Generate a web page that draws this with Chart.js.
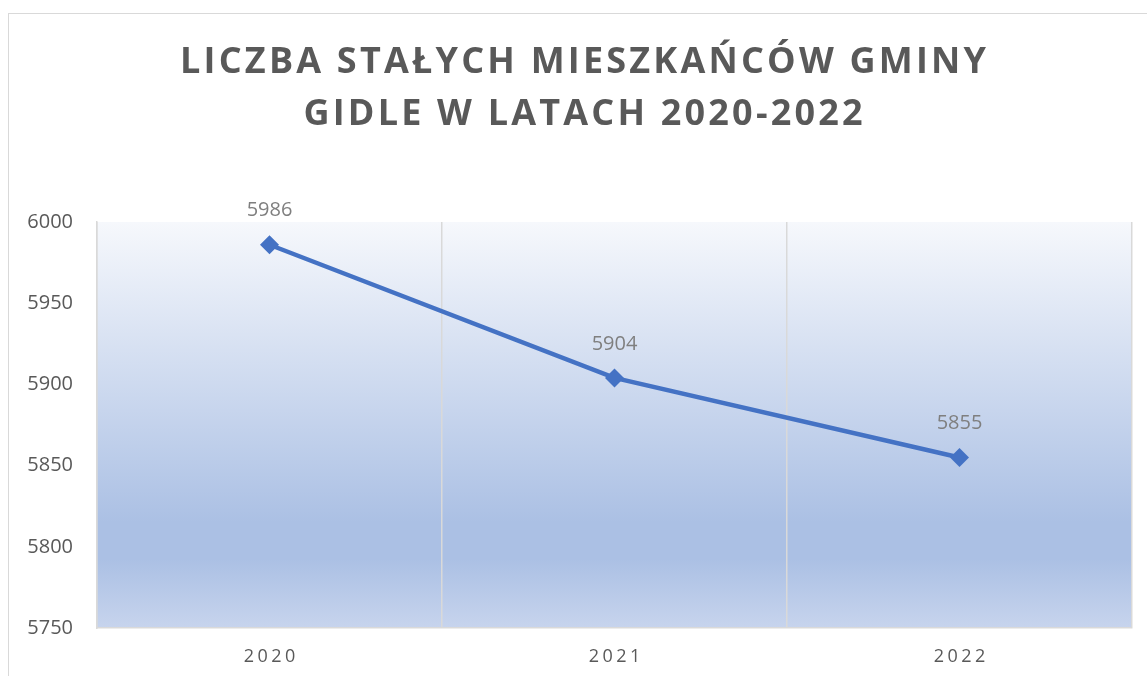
<!DOCTYPE html>
<html>
<head>
<meta charset="utf-8">
<script src="https://cdn.jsdelivr.net/npm/chart.js@4.4.1/dist/chart.umd.min.js"></script>
<style>
  html, body { margin: 0; padding: 0; background: #fff; overflow: hidden; }
  #frame { position: absolute; left: 8px; top: 13px; width: 1300px; height: 800px; border: 1px solid #d9d9d9; }
  #wrap { position: absolute; left: 0; top: 0; width: 1147px; height: 676px; }
</style>
</head>
<body>
<div id="frame"></div>
<div id="wrap"><canvas id="chart" width="1147" height="676"></canvas></div>
<script>
const titleLines = ['LICZBA STAŁYCH MIESZKAŃCÓW GMINY', 'GIDLE W LATACH 2020-2022'];
const years = ['2020', '2021', '2022'];
const residents = [5986, 5904, 5855];
const yTicks = [5750, 5800, 5850, 5900, 5950, 6000];

const textFont = '"Open Sans", "DejaVu Sans", sans-serif';

// title with letter spacing, drawn by hand
const titlePlugin = {
    id: 'spacedTitle',
    afterDraw(chart) {
        const ctx = chart.ctx;
        ctx.save();
        ctx.font = 'bold 36px ' + textFont;
        ctx.fillStyle = '#595959';
        ctx.textAlign = 'center';
        ctx.textBaseline = 'alphabetic';
        ctx.letterSpacing = '3.2px';
        titleLines.forEach((line, i) => {
            ctx.fillText(line, 583 + 1.6, 73 + i * 52);
        });
        ctx.restore();
    }
};

// gradient fill of the plot area
const plotBackground = {
    id: 'plotBackground',
    beforeDraw(chart) {
        const { ctx, chartArea } = chart;
        const g = ctx.createLinearGradient(0, chartArea.top, 0, chartArea.bottom);
        g.addColorStop(0, '#f6f8fc');
        g.addColorStop(0.74, '#abc0e4');
        g.addColorStop(0.83, '#abc0e4');
        g.addColorStop(1, '#c7d4ed');
        ctx.save();
        ctx.fillStyle = g;
        ctx.fillRect(chartArea.left, chartArea.top, chartArea.right - chartArea.left, chartArea.bottom - chartArea.top);
        ctx.restore();
    }
};

// x labels with letter spacing
const spacedXLabels = {
    id: 'spacedXLabels',
    afterDraw(chart) {
        const ctx = chart.ctx;
        const xScale = chart.scales.x;
        ctx.save();
        ctx.font = '18px ' + textFont;
        ctx.fillStyle = '#595959';
        ctx.textAlign = 'center';
        ctx.textBaseline = 'middle';
        ctx.letterSpacing = '3.5px';
        years.forEach((y, i) => {
            ctx.fillText(y, xScale.getPixelForValue(i) + 1.75, 657);
        });
        ctx.restore();
    }
};

// value labels above points
const valueLabels = {
    id: 'valueLabels',
    afterDatasetsDraw(chart) {
        const ctx = chart.ctx;
        const meta = chart.getDatasetMeta(0);
        ctx.save();
        ctx.font = '20px ' + textFont;
        ctx.fillStyle = '#7f7f7f';
        ctx.textAlign = 'center';
        ctx.textBaseline = 'middle';
        meta.data.forEach((pt, i) => {
            ctx.fillText(String(residents[i]), pt.x, pt.y - 34);
        });
        ctx.restore();
    }
};

new Chart(document.getElementById('chart').getContext('2d'), {
    type: 'line',
    data: {
        labels: years,
        datasets: [{
            data: residents,
            borderColor: '#4472c4',
            backgroundColor: '#4472c4',
            borderWidth: 4.5,
            pointStyle: 'rectRot',
            pointRadius: 9.5,
            pointHoverRadius: 9.5,
            pointBorderWidth: 0,
            tension: 0
        }]
    },
    options: {
        responsive: false,
        animation: false,
        layout: { padding: { left: 0, right: 15, top: 222, bottom: 0 } },
        plugins: {
            legend: { display: false },
            title: { display: false },
            tooltip: { enabled: false }
        },
        scales: {
            x: {
                offset: true,
                grid: { offset: true, color: '#d9d9d9', lineWidth: 1.5, drawTicks: false },
                border: { color: '#d9d9d9', width: 1.5 },
                ticks: { color: 'rgba(0,0,0,0)', font: { size: 18, family: textFont } },
                afterFit(scale) { scale.height = 48; }
            },
            y: {
                min: 5750,
                max: 6000,
                afterBuildTicks(scale) { scale.ticks = yTicks.map(v => ({ value: v })); },
                grid: { display: false, drawTicks: false },
                border: { color: '#d9d9d9', width: 1.5 },
                ticks: {
                    color: '#595959',
                    padding: 24,
                    font: { size: 20, family: textFont },
                    callback: v => String(v)
                },
                afterFit(scale) { scale.width = 97; }
            }
        }
    },
    plugins: [plotBackground, titlePlugin, spacedXLabels, valueLabels]
});
</script>
</body>
</html>
